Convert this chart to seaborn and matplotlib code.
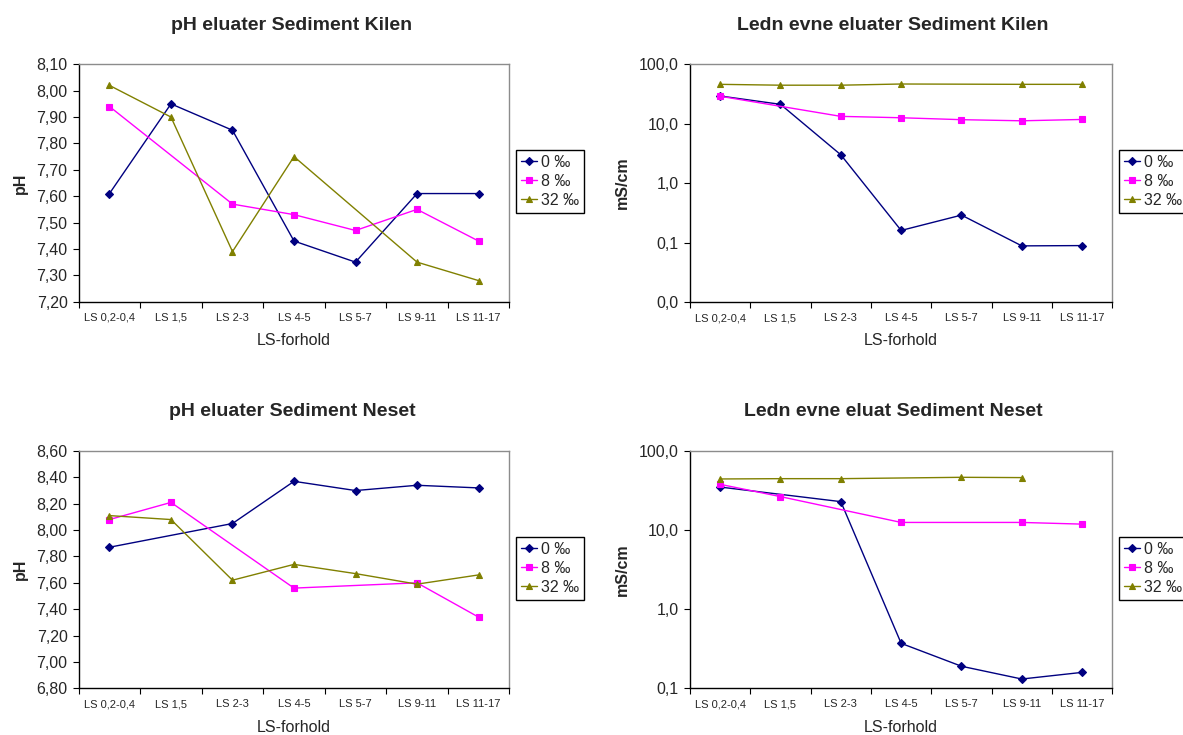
import numpy as np
import pandas as pd
import matplotlib
matplotlib.use("Agg")
import matplotlib.pyplot as plt
from matplotlib.ticker import FixedLocator, FuncFormatter, NullFormatter
import seaborn as sns

# ---- data -------------------------------------------------------------
categories = ["LS 0,2-0,4", "LS 1,5", "LS 2-3", "LS 4-5", "LS 5-7", "LS 9-11", "LS 11-17"]
series_names = ["0 \u2030", "8 \u2030", "32 \u2030"]
nan = np.nan

ph_kilen_0 = [7.61, 7.95, 7.85, 7.43, 7.35, 7.61, 7.61]
ph_kilen_8 = [7.94, nan, 7.57, 7.53, 7.47, 7.55, 7.43]
ph_kilen_32 = [8.02, 7.90, 7.39, 7.75, nan, 7.35, 7.28]

cond_kilen_0 = [29.3, 21.2, 3.0, 0.16, 0.29, 0.088, 0.089]
cond_kilen_8 = [29.0, nan, 13.3, 12.6, 11.7, 11.2, 11.8]
cond_kilen_32 = [46.0, 44.5, 44.5, 46.6, nan, 46.0, 46.0]

ph_neset_0 = [7.87, nan, 8.05, 8.37, 8.30, 8.34, 8.32]
ph_neset_8 = [8.08, 8.21, nan, 7.56, nan, 7.60, 7.34]
ph_neset_32 = [8.11, 8.08, 7.62, 7.74, 7.67, 7.59, 7.66]

cond_neset_0 = [35.0, nan, 22.9, 0.37, 0.19, 0.131, 0.159]
cond_neset_8 = [37.9, 26.5, nan, 12.5, nan, 12.5, 11.9]
cond_neset_32 = [44.3, 44.7, 44.7, nan, 46.5, 46.1, nan]

titles = ["pH eluater Sediment Kilen", "Ledn evne eluater Sediment Kilen",
          "pH eluater Sediment Neset", "Ledn evne eluat Sediment Neset"]
xlabel = "LS-forhold"
ylabels = ["pH", "mS/cm", "pH", "mS/cm"]

# ---- style ------------------------------------------------------------
sns.set_style("white")
plt.rcParams["font.family"] = ["Liberation Sans", "DejaVu Sans"]

colors = ["#000080", "#FF00FF", "#808000"]
markers = ["D", "s", "^"]
msizes = [3.6, 5.0, 4.6]

W, H = 1183, 735
fig = plt.figure(figsize=(W / 100, H / 100), dpi=100)


def frac_box(left, top, right, bottom):
    return [left / W, 1 - bottom / H, (right - left) / W, (bottom - top) / H]


panels = [
    dict(box=frac_box(78.7, 64.3, 509.3, 301.7), data=[ph_kilen_0, ph_kilen_8, ph_kilen_32],
         log=False, ylim=(7.20, 8.10), yticks=np.arange(7.20, 8.101, 0.10), fmt="{:.2f}",
         title_xy=(292, 25), xlabel_y=340, ylabel_x=28, leg=(516, 150)),
    dict(box=frac_box(690, 64.3, 1112.3, 302), data=[cond_kilen_0, cond_kilen_8, cond_kilen_32],
         log=True, ylim=(0.01, 100), yticks=[0.01, 0.1, 1, 10, 100], fmt="{:.1f}",
         title_xy=(893, 25), xlabel_y=340, ylabel_x=630, leg=(1119, 150)),
    dict(box=frac_box(78.7, 451, 509.3, 688.3), data=[ph_neset_0, ph_neset_8, ph_neset_32],
         log=False, ylim=(6.80, 8.60), yticks=np.arange(6.80, 8.601, 0.20), fmt="{:.2f}",
         title_xy=(292, 412), xlabel_y=727, ylabel_x=28, leg=(516, 537)),
    dict(box=frac_box(690, 451, 1112.3, 688.3), data=[cond_neset_0, cond_neset_8, cond_neset_32],
         log=True, ylim=(0.1, 100), yticks=[0.1, 1, 10, 100], fmt="{:.1f}",
         title_xy=(893, 412), xlabel_y=727, ylabel_x=630, leg=(1119, 537)),
]

positions = np.arange(len(categories))

for i, p in enumerate(panels):
    ax = fig.add_axes(p["box"])
    for name, vals, c, m, ms in zip(series_names, p["data"], colors, markers, msizes):
        df = pd.DataFrame({"pos": positions, "val": vals}).dropna()
        sns.lineplot(data=df, x="pos", y="val", ax=ax, color=c, marker=m,
                     markersize=ms, markeredgecolor=c, markeredgewidth=0.8,
                     linewidth=1.0, label=name, errorbar=None, sort=False)

    if p["log"]:
        ax.set_yscale("log")
    ax.set_ylim(*p["ylim"])
    ax.set_xlim(-0.5, len(categories) - 0.5)

    fmt = p["fmt"]
    ax.yaxis.set_major_locator(FixedLocator(list(p["yticks"])))
    ax.yaxis.set_major_formatter(FuncFormatter(lambda v, _, f=fmt: f.format(v).replace(".", ",")))
    ax.yaxis.set_minor_locator(FixedLocator([]))
    ax.yaxis.set_minor_formatter(NullFormatter())

    # category boundaries carry the tick marks, labels sit at the centres
    ax.xaxis.set_major_locator(FixedLocator(np.arange(-0.5, len(categories), 1.0)))
    ax.xaxis.set_major_formatter(NullFormatter())
    ax.xaxis.set_minor_locator(FixedLocator(positions))
    ax.set_xticklabels(categories, minor=True)

    ax.tick_params(axis="y", which="major", direction="out", length=4.5, width=0.8,
                   color="black", labelsize=11.5, pad=3.5, left=True)
    ax.tick_params(axis="x", which="major", direction="out", length=4.5, width=0.8,
                   color="black", bottom=True)
    ax.tick_params(axis="x", which="minor", length=0, labelsize=8, pad=8)

    for side in ["left", "bottom"]:
        ax.spines[side].set_color("black")
        ax.spines[side].set_linewidth(1.0)
    for side in ["top", "right"]:
        ax.spines[side].set_color("#8c8c8c")
        ax.spines[side].set_linewidth(1.0)

    ax.set_xlabel("")
    ax.set_ylabel(ylabels[i], fontsize=11.5, fontweight="bold")
    ax.yaxis.set_label_coords((p["ylabel_x"] - p["box"][0] * W) / (p["box"][2] * W), 0.5)

    cx = p["box"][0] + p["box"][2] / 2
    fig.text(p["title_xy"][0] / W, 1 - p["title_xy"][1] / H, titles[i],
             ha="center", va="center", fontsize=14, fontweight="bold")
    fig.text(cx, 1 - p["xlabel_y"] / H, xlabel, ha="center", va="center", fontsize=11.5)

    leg = ax.legend(loc="upper left", bbox_to_anchor=(p["leg"][0] / W, 1 - p["leg"][1] / H),
                    bbox_transform=fig.transFigure, frameon=True, fancybox=False,
                    framealpha=1, edgecolor="black", fontsize=11.5,
                    handlelength=1.0, handletextpad=0.25, borderpad=0.3,
                    labelspacing=0.25, borderaxespad=0)
    leg.get_frame().set_linewidth(1.0)

fig.savefig("out.png", dpi=100)
